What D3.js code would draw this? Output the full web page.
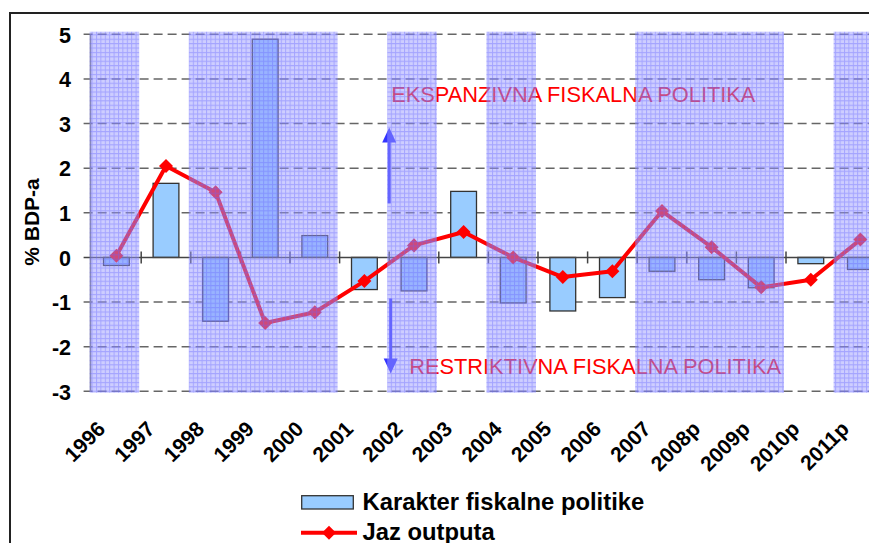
<!DOCTYPE html>
<html lang="hr">
<head>
    <meta charset="UTF-8">
    <title>Karakter fiskalne politike i jaz outputa</title>
    <style>
        body { margin: 0; background: #fff; }
        text { font-family: Arial, "Liberation Sans", sans-serif; }
    </style>
</head>
<body>
    <div id="chart-container"></div>
    <script src="https://d3js.org/d3.v7.min.js"></script>
    <script>
        const years = ["1996", "1997", "1998", "1999", "2000", "2001", "2002", "2003",
            "2004", "2005", "2006", "2007", "2008p", "2009p", "2010p", "2011p"];
        const karakter = [-0.18, 1.66, -1.43, 4.89, 0.49, -0.72, -0.75, 1.48,
            -1.02, -1.2, -0.9, -0.31, -0.5, -0.68, -0.14, -0.27];
        const jaz = [0.04, 2.05, 1.46, -1.47, -1.23, -0.53, 0.27, 0.57,
            0.0, -0.44, -0.31, 1.04, 0.23, -0.67, -0.5, 0.4];
        const shaded = ["1996", "1998", "1999", "2000", "2002", "2004", "2007", "2008p", "2009p", "2011p"];
        const yTicks = [-3, -2, -1, 0, 1, 2, 3, 4, 5];
        const legendLabels = ["Karakter fiskalne politike", "Jaz outputa"];
        const notes = ["EKSPANZIVNA FISKALNA POLITIKA", "RESTRIKTIVNA FISKALNA POLITIKA"];

        const MARGIN = {LEFT: 91.6, TOP: 34.3};
        const WIDTH = 793.6;
        const HEIGHT = 357;

        const svg = d3.select("#chart-container").append("svg")
            .attr("width", 869)
            .attr("height", 543);

        // chart frame (runs off the right and bottom edge like the original)
        svg.append("rect")
            .attr("x", 10).attr("y", 13)
            .attr("width", 900).attr("height", 600)
            .attr("fill", "none").attr("stroke", "#222").attr("stroke-width", 2);

        const defs = svg.append("defs");
        const pat = defs.append("pattern")
            .attr("id", "hatch")
            .attr("patternUnits", "userSpaceOnUse")
            .attr("width", 4.4).attr("height", 4.4);
        pat.append("rect").attr("width", 4.4).attr("height", 4.4)
            .attr("fill", "rgba(153,153,255,0.48)");
        pat.append("path").attr("d", "M0,0.5H4.4M0.5,0V4.4")
            .attr("stroke", "rgba(100,100,255,0.4)").attr("stroke-width", 1);

        const g = svg.append("g")
            .attr("transform", `translate(${MARGIN.LEFT}, ${MARGIN.TOP})`);

        const x = d3.scaleBand().range([0, WIDTH]).domain(years);
        const y = d3.scaleLinear().range([HEIGHT, 0]).domain([-3, 5]);
        const bw = x.bandwidth();

        // dashed grid lines
        g.selectAll(".grid").data(yTicks.filter(d => d !== 0)).enter().append("line")
            .attr("x1", -8).attr("x2", WIDTH)
            .attr("y1", d => y(d)).attr("y2", d => y(d))
            .attr("stroke", "#666").attr("stroke-width", 1.6)
            .attr("stroke-dasharray", "9,5");

        // y axis
        const yAxisCall = d3.axisLeft(y).tickValues(yTicks).tickFormat(d => String(d))
            .tickSize(0).tickPadding(0);
        const yAxis = g.append("g").attr("transform", "translate(-1.6,0)").call(yAxisCall);
        yAxis.select(".domain").attr("stroke", "#777").attr("stroke-width", 1.5);
        yAxis.selectAll("text")
            .attr("x", -19).attr("dy", "0.36em")
            .attr("font-size", 21.5).attr("font-weight", "bold").attr("fill", "#000");

        // bars
        g.selectAll(".bar").data(years).enter().append("rect")
            .attr("class", "bar")
            .attr("x", d => x(d) + bw * 0.24)
            .attr("width", bw * 0.52)
            .attr("y", (d, i) => y(Math.max(0, karakter[i])))
            .attr("height", (d, i) => Math.abs(y(karakter[i]) - y(0)))
            .attr("fill", "#99ccff").attr("stroke", "#333").attr("stroke-width", 1.3);

        // zero line with category ticks
        g.append("line")
            .attr("x1", -8).attr("x2", WIDTH)
            .attr("y1", y(0)).attr("y2", y(0))
            .attr("stroke", "#444").attr("stroke-width", 1.5);
        g.selectAll(".xtick").data(years.slice(1)).enter().append("line")
            .attr("x1", d => x(d)).attr("x2", d => x(d))
            .attr("y1", y(0) - 6).attr("y2", y(0) + 6)
            .attr("stroke", "#444").attr("stroke-width", 1.5);

        // line + markers
        g.append("path")
            .datum(jaz)
            .attr("fill", "none").attr("stroke", "#ff0000").attr("stroke-width", 4)
            .attr("stroke-linejoin", "round")
            .attr("d", d3.line()
                .x((d, i) => x(years[i]) + bw / 2)
                .y(d => y(d)));
        g.selectAll(".dot").data(jaz).enter().append("path")
            .attr("transform", (d, i) => `translate(${x(years[i]) + bw / 2},${y(d)})`)
            .attr("d", d3.symbol().type(d3.symbolDiamond2).size(125))
            .attr("fill", "#ff0000");

        // annotations
        g.append("text")
            .attr("x", x("2002") + 2).attr("y", y(3.49))
            .attr("font-size", 21.8).attr("fill", "#ff0000")
            .text(notes[0]);
        g.append("text")
            .attr("x", x("2002") + 20).attr("y", y(-2.62))
            .attr("font-size", 21.8).attr("fill", "#ff0000")
            .text(notes[1]);

        function arrow(xPos, from, to) {
            const y1 = y(from), y2 = y(to);
            const dir = y2 < y1 ? 1 : -1;
            g.append("line")
                .attr("x1", xPos).attr("x2", xPos)
                .attr("y1", y1).attr("y2", y2 + dir * 12)
                .attr("stroke", "#3333ff").attr("stroke-width", 3);
            g.append("path")
                .attr("d", `M${xPos},${y2}L${xPos - 7},${y2 + dir * 15}L${xPos + 7},${y2 + dir * 15}Z`)
                .attr("fill", "#3333ff");
        }
        arrow(x("2002"), 1.21, 2.91);
        arrow(x("2002") + 1.5, -0.92, -2.6);

        // shaded periods drawn over everything inside the plot
        g.selectAll(".shade").data(shaded).enter().append("rect")
            .attr("x", d => x(d) - 2)
            .attr("width", bw)
            .attr("y", y(5) - 2.6)
            .attr("height", y(-3) - y(5) + 4)
            .attr("fill", "url(#hatch)");

        // x labels
        g.selectAll(".xlabel").data(years).enter().append("text")
            .attr("transform", d => `translate(${x(d) + bw / 2 - 10},${HEIGHT + 39}) rotate(-45)`)
            .attr("text-anchor", "end")
            .attr("font-size", 21).attr("font-weight", "bold")
            .text(d => d);

        // y title
        svg.append("text")
            .attr("transform", "translate(39,222) rotate(-90)")
            .attr("text-anchor", "middle")
            .attr("font-size", 21).attr("font-weight", "bold")
            .text("% BDP-a");

        // legend
        const lg = svg.append("g");
        lg.append("rect")
            .attr("x", 301.7).attr("y", 495.7).attr("width", 51.6).attr("height", 13.3)
            .attr("fill", "#99ccff").attr("stroke", "#333").attr("stroke-width", 1.3);
        lg.append("text").attr("x", 362.5).attr("y", 509.5)
            .attr("font-size", 23.8).attr("font-weight", "bold").text(legendLabels[0]);
        lg.append("line")
            .attr("x1", 301).attr("x2", 357).attr("y1", 532.7).attr("y2", 532.7)
            .attr("stroke", "#ff0000").attr("stroke-width", 4);
        lg.append("path")
            .attr("transform", "translate(329,532.7)")
            .attr("d", d3.symbol().type(d3.symbolDiamond2).size(125))
            .attr("fill", "#ff0000");
        lg.append("text").attr("x", 362.5).attr("y", 539.5)
            .attr("font-size", 23.8).attr("font-weight", "bold").text(legendLabels[1]);
    </script>
</body>
</html>
